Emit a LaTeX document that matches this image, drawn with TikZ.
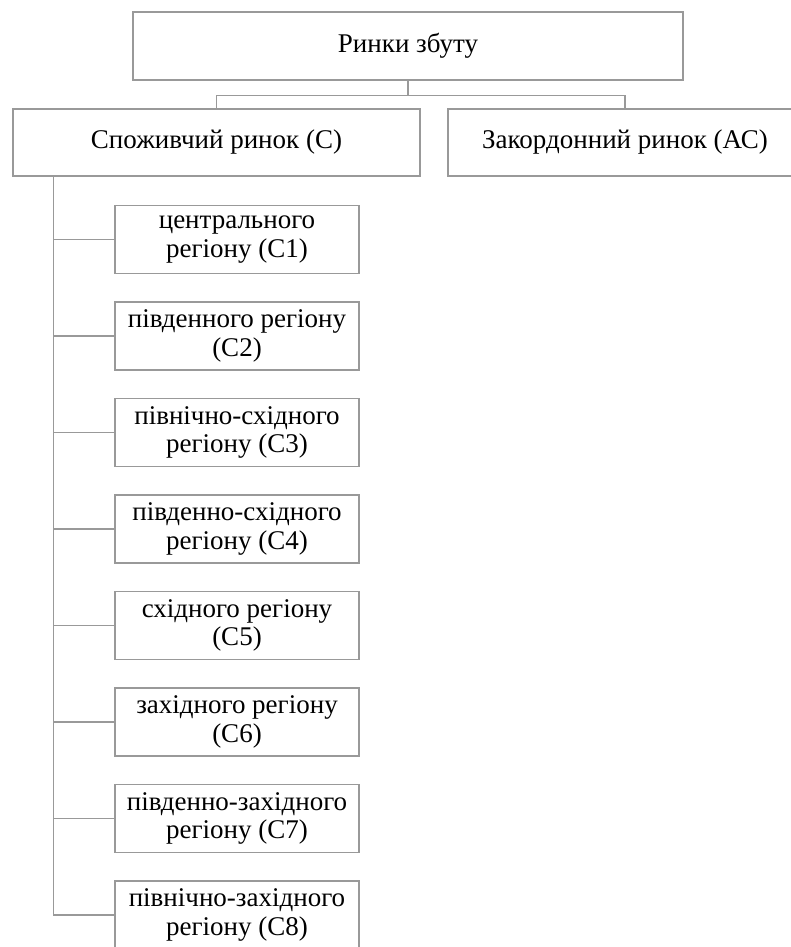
\documentclass[tikz,border=0pt]{standalone}
\usepackage{fontspec}
\setmainfont{Liberation Serif}
\usetikzlibrary{positioning}

\tikzset{
    box/.style={draw=gray!80, line width=1.1pt, align=center, inner sep=0pt,
        minimum height=68pt, font=\fontsize{27}{28.5}\selectfont},
    region/.style={box, minimum width=244pt},
    link/.style={draw=gray!80, line width=1.1pt}
}

\begin{document}
\begin{tikzpicture}[x=1pt,y=-1pt]
        \useasboundingbox (0,0) rectangle (790,947);
        %% top level
        \node[box, minimum width=550pt] (rynky) at (408,46) {Ринки збуту};
        \node[box, minimum width=407pt, minimum height=67pt] (spozh) at (216.5,142.5) {Споживчий ринок (С)};
        \node[box, minimum width=354pt, minimum height=67pt] (zakord) at (625,142.5) {Закордонний ринок (АС)};
        %% fork
        \coordinate (fork) at ([yshift=-15pt]rynky.south);
        \draw[link] (rynky.south) -- (fork);
        \draw[link] (fork) -| (spozh.north);
        \draw[link] (fork) -| (zakord.north);
        %% regions
        \coordinate (trunk) at ([xshift=41pt]spozh.south west);
        \foreach \i/\txt in {1/центрального\\регіону (С1),
                             2/південного регіону\\(С2),
                             3/північно-східного\\регіону (С3),
                             4/південно-східного\\регіону (С4),
                             5/східного регіону\\(С5),
                             6/західного регіону\\(С6),
                             7/південно-західного\\регіону (С7),
                             8/північно-західного\\регіону (С8)}
        {
            \node[region] (c\i) at (237,143+96.5*\i) {\txt};
            \draw[link] (trunk) |- (c\i.west);
        }
    \end{tikzpicture}
\end{document}
